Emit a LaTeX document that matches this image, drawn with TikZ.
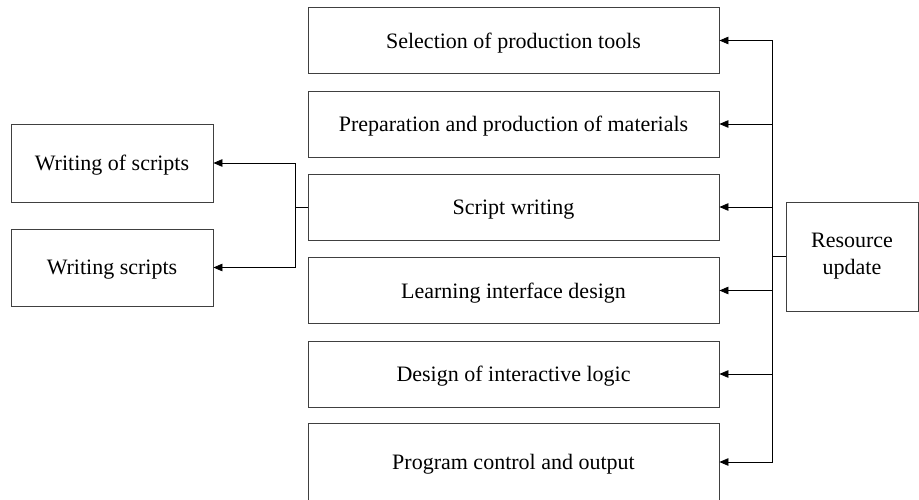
\documentclass[tikz,border=0pt]{standalone}
\usepackage{fontspec}
\setmainfont{Liberation Serif}
\usetikzlibrary{arrows.meta}
\begin{document}
\begin{tikzpicture}[x=1pt,y=-1pt,
    box/.style={draw=black!75,line width=0.8pt,inner sep=0pt,align=center,
        font=\fontsize{22}{27}\selectfont},
    midbox/.style={box,minimum width=411pt,minimum height=66pt,text depth=0pt},
    arr/.style={line width=0.8pt,-{Triangle[length=9pt,width=7.5pt]}}]
        \useasboundingbox (0,0) rectangle (919,500);

        \node[midbox] (sel) at (513.5,40.5){Selection of production tools};
        \node[midbox] (prep) at (513.5,124){Preparation and production of materials};
        \node[midbox] (script) at (513.5,207){Script writing};
        \node[midbox] (ui) at (513.5,290.5){Learning interface design};
        \node[midbox] (logic) at (513.5,374){Design of interactive logic};
        \node[midbox,minimum height=78pt] (prog) at (513.5,462){Program control and output};

        \node[box,minimum width=202pt,minimum height=78pt,text depth=0pt] (wos) at (112,163){Writing of scripts};
        \node[box,minimum width=202pt,minimum height=77pt,text depth=0pt] (ws) at (112,267.5){Writing scripts};

        \node[box,minimum width=132pt,minimum height=109pt] (res) at (852,256.5){Resource\\update};

        \coordinate (bus) at (772,256.5);
        \coordinate (lbus) at (295,207);

        \draw[line width=0.8pt] (res.west) -- (bus);
        \foreach \b in {sel,prep,script,ui,logic,prog}
            \draw[arr] (bus) |- (\b.east);

        \draw[line width=0.8pt] (script.west) -- (lbus);
        \draw[arr] (lbus) |- (wos.east);
        \draw[arr] (lbus) |- (ws.east);
    \end{tikzpicture}
\end{document}
